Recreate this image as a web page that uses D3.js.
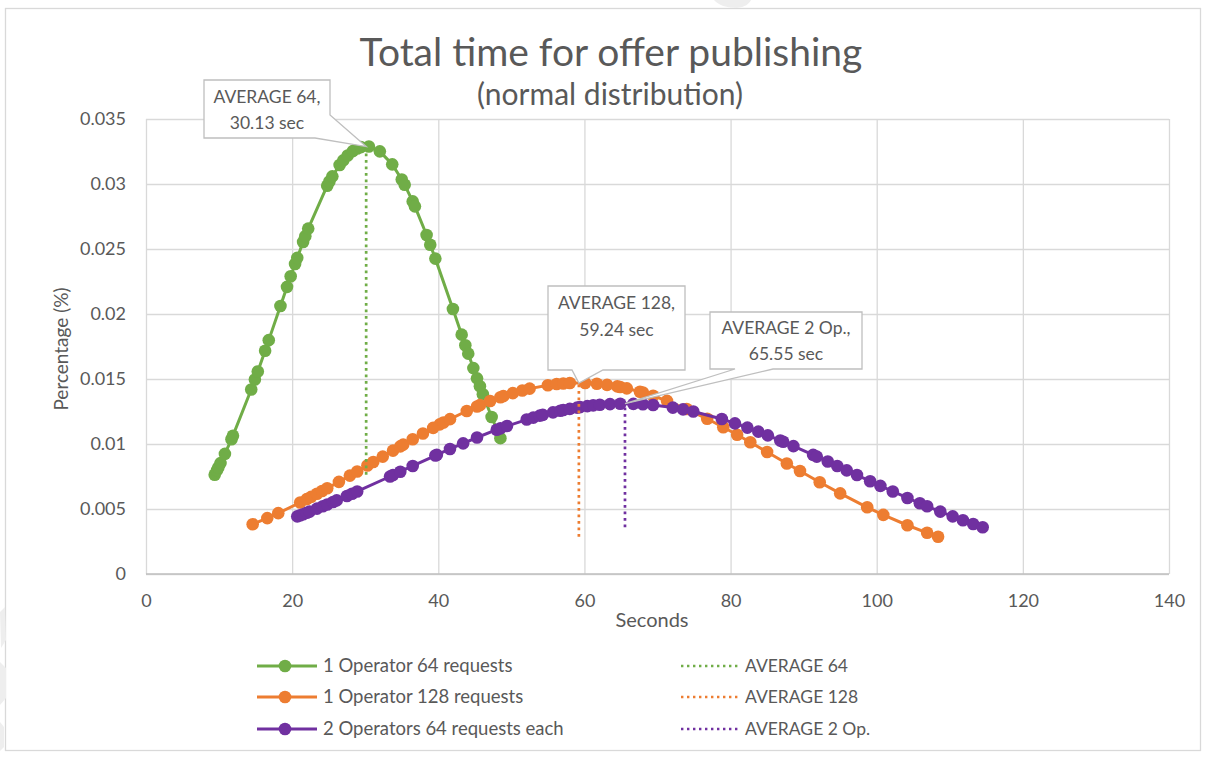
<!DOCTYPE html>
<html>
<head>
<meta charset="utf-8">
<script src="https://cdn.jsdelivr.net/npm/d3@7"></script>
<style>
  html, body { margin: 0; padding: 0; background: #ffffff; }
  svg text { font-family: Lato, "Open Sans", sans-serif; fill: #595959; }
</style>
</head>
<body>
<svg id="chart" width="1207" height="759"></svg>
<script>
// ---- data -------------------------------------------------------------
// 1 Operator, 64 requests
const seconds64 = [9.4, 9.7, 9.9, 10.2, 10.8, 11.7, 11.9, 14.4, 14.9, 15.3, 16.3, 16.8, 18.4, 19.3, 19.8,
  20.4, 20.7, 21.5, 21.8, 22.2, 24.8, 25.1, 25.5, 26.5, 27.0, 27.6, 28.3, 28.9, 29.4, 30.5, 32.0,
  33.7, 35.0, 35.4, 36.5, 36.8, 38.4, 38.9, 39.6, 42.0, 43.2, 43.7, 44.1, 44.8, 45.3, 45.7, 46.1,
  47.3, 48.5];
const pct64 = [0.00764, 0.00797, 0.00819, 0.00853, 0.00924, 0.01037, 0.01064, 0.01419, 0.01496, 0.01558,
  0.01717, 0.01799, 0.02061, 0.02209, 0.02290, 0.02385, 0.02432, 0.02554, 0.02599, 0.02657, 0.02987,
  0.03019, 0.03059, 0.03146, 0.03182, 0.03219, 0.03253, 0.03273, 0.03284, 0.03288, 0.03251, 0.03151,
  0.03035, 0.02994, 0.02866, 0.02828, 0.02608, 0.02533, 0.02426, 0.02038, 0.01841, 0.01760, 0.01695,
  0.01584, 0.01505, 0.01444, 0.01383, 0.01208, 0.01045];

// 1 Operator, 128 requests
const seconds128 = [14.6, 16.6, 18.1, 21.1, 22.0, 22.6, 23.4, 24.1, 24.8, 26.4, 27.9, 28.9, 30.3, 31.1,
  32.4, 33.8, 34.8, 35.2, 36.5, 37.9, 39.3, 40.2, 40.7, 41.6, 43.9, 45.3, 45.7, 47.1, 48.5, 48.9, 50.2,
  51.5, 52.5, 55.0, 56.2, 57.1, 58.0, 60.1, 61.7, 63.1, 64.5, 64.9, 65.8, 67.6, 68.0, 69.4, 71.3, 74.0,
  76.8, 79.0, 80.9, 82.7, 85.0, 87.7, 89.5, 92.2, 95.0, 98.7, 100.9, 104.2, 106.9, 108.4];
const pct128 = [0.00383, 0.00430, 0.00468, 0.00550, 0.00576, 0.00593, 0.00617, 0.00638, 0.00660, 0.00709,
  0.00757, 0.00789, 0.00835, 0.00861, 0.00903, 0.00949, 0.00982, 0.00995, 0.01036, 0.01081, 0.01124,
  0.01151, 0.01165, 0.01191, 0.01254, 0.01289, 0.01299, 0.01331, 0.01360, 0.01368, 0.01391, 0.01412,
  0.01426, 0.01452, 0.01461, 0.01465, 0.01469, 0.01469, 0.01464, 0.01455, 0.01443, 0.01439, 0.01428,
  0.01402, 0.01396, 0.01371, 0.01332, 0.01269, 0.01194, 0.01129, 0.01071, 0.01013, 0.00939, 0.00850,
  0.00792, 0.00706, 0.00620, 0.00513, 0.00455, 0.00375, 0.00317, 0.00287];

// 2 Operators, 64 requests each
const seconds2op = [20.7, 21.1, 21.5, 22.0, 22.4, 23.4, 24.2, 24.8, 25.6, 26.1, 27.5, 28.2, 28.9, 33.4,
  33.8, 34.8, 36.5, 39.6, 39.8, 41.6, 43.4, 45.3, 48.0, 48.5, 49.4, 52.1, 53.0, 53.9, 54.3, 55.7, 56.7,
  57.1, 58.0, 59.0, 59.4, 60.4, 61.2, 62.1, 63.5, 64.9, 66.7, 68.0, 69.4, 72.1, 73.5, 74.9, 78.8, 80.6,
  82.3, 83.8, 85.1, 86.8, 87.2, 88.6, 91.3, 91.8, 93.3, 94.6, 95.9, 97.3, 99.1, 100.5, 102.2, 104.2,
  105.9, 106.9, 108.7, 110.4, 111.8, 113.2, 114.5];
const pct2op = [0.00443, 0.00451, 0.00460, 0.00471, 0.00480, 0.00503, 0.00521, 0.00535, 0.00554, 0.00566,
  0.00600, 0.00617, 0.00635, 0.00750, 0.00761, 0.00787, 0.00831, 0.00911, 0.00916, 0.00962, 0.01005,
  0.01050, 0.01110, 0.01120, 0.01138, 0.01188, 0.01203, 0.01218, 0.01224, 0.01243, 0.01256, 0.01261,
  0.01270, 0.01280, 0.01284, 0.01291, 0.01297, 0.01302, 0.01307, 0.01310, 0.01309, 0.01306, 0.01300,
  0.01280, 0.01266, 0.01250, 0.01192, 0.01159, 0.01126, 0.01095, 0.01066, 0.01027, 0.01017, 0.00984,
  0.00916, 0.00903, 0.00865, 0.00831, 0.00797, 0.00761, 0.00714, 0.00678, 0.00635, 0.00585, 0.00544,
  0.00521, 0.00480, 0.00443, 0.00413, 0.00385, 0.00360];

const seriesNames = ["1 Operator 64 requests", "1 Operator 128 requests", "2 Operators 64 requests each"];
const averageNames = ["AVERAGE 64", "AVERAGE 128", "AVERAGE 2 Op."];
const calloutNames = ["AVERAGE 64", "AVERAGE 128", "AVERAGE 2 Op."];
const averageSeconds = [30.13, 59.24, 65.55];

const xTicks = [0, 20, 40, 60, 80, 100, 120, 140];
const yTicks = [0, 0.005, 0.01, 0.015, 0.02, 0.025, 0.03, 0.035];
const yTickLabels = ["0", "0.005", "0.01", "0.015", "0.02", "0.025", "0.03", "0.035"];

const titleText = "Total time for offer publishing";
const subtitleText = "(normal distribution)";
const xTitle = "Seconds";
const yTitle = "Percentage (%)";

// ---- styling ----------------------------------------------------------
const colors = ["#70AD47", "#ED7D31", "#7030A0"];
const gridColor = "#d9d9d9";
const textColor = "#595959";

const plot = { left: 146, right: 1169, top: 119, bottom: 574 };

const svg = d3.select("#chart");

const x = d3.scaleLinear().domain([0, 140]).range([plot.left, plot.right]);
const y = d3.scaleLinear().domain([0, 0.035]).range([plot.bottom, plot.top]);

// chart frame
svg.append("rect")
  .attr("x", 5.5).attr("y", 8.5)
  .attr("width", 1195).attr("height", 742)
  .attr("fill", "#ffffff")
  .attr("stroke", gridColor).attr("stroke-width", 1.3);

// faint marks along the sheet edges
svg.append("path")
  .attr("d", "M714,0 C718,5 727,8 737,8 C745,7 749,4 751,0 Z")
  .attr("fill", "#eeeeee");
svg.append("path")
  .attr("d", "M0,612 L5,607 L6,640 L1,648 Z M0,662 L6,668 L6,698 L0,705 Z M0,722 L4,727 L4,747 L0,751 Z")
  .attr("fill", "#eeeeee");

// ---- gridlines --------------------------------------------------------
const gridY = svg.append("g")
  .attr("transform", `translate(${plot.left},0)`)
  .call(d3.axisLeft(y).tickValues(yTicks).tickSize(-(plot.right - plot.left)).tickFormat(""));
gridY.select(".domain").remove();
gridY.selectAll("line").attr("stroke", gridColor).attr("stroke-width", 1.3);

const gridX = svg.append("g")
  .attr("transform", `translate(0,${plot.bottom})`)
  .call(d3.axisBottom(x).tickValues(xTicks).tickSize(-(plot.bottom - plot.top)).tickFormat(""));
gridX.select(".domain").remove();
gridX.selectAll("line").attr("stroke", gridColor).attr("stroke-width", 1.3);

// bottom axis line
svg.append("line")
  .attr("x1", plot.left).attr("x2", plot.right)
  .attr("y1", y(0)).attr("y2", y(0))
  .attr("stroke", "#bfbfbf").attr("stroke-width", 1.5);

// ---- tick labels ------------------------------------------------------
const axY = svg.append("g")
  .attr("transform", `translate(${plot.left},0)`)
  .call(d3.axisLeft(y).tickValues(yTicks).tickSize(0).tickPadding(20)
    .tickFormat((d, i) => yTickLabels[i]));
axY.select(".domain").remove();
axY.selectAll("text").attr("font-size", 18).attr("fill", textColor)
  .attr("font-family", "Lato, 'Open Sans', sans-serif");

const axX = svg.append("g")
  .attr("transform", `translate(0,${plot.bottom})`)
  .call(d3.axisBottom(x).tickValues(xTicks).tickSize(0).tickPadding(20));
axX.select(".domain").remove();
axX.selectAll("text").attr("font-size", 18).attr("fill", textColor)
  .attr("font-family", "Lato, 'Open Sans', sans-serif");

// ---- titles -----------------------------------------------------------
svg.append("text")
  .attr("x", 611).attr("y", 66)
  .attr("text-anchor", "middle").attr("font-size", 39)
  .text(titleText);
svg.append("text")
  .attr("x", 610).attr("y", 105)
  .attr("text-anchor", "middle").attr("font-size", 30)
  .text(subtitleText);
svg.append("text")
  .attr("x", 652).attr("y", 627)
  .attr("text-anchor", "middle").attr("font-size", 20)
  .text(xTitle);
svg.append("text")
  .attr("transform", "translate(68,349) rotate(-90)")
  .attr("text-anchor", "middle").attr("font-size", 19)
  .text(yTitle);

// ---- series -----------------------------------------------------------
const seriesData = [
  seconds64.map((s, i) => ({ s, p: pct64[i] })),
  seconds128.map((s, i) => ({ s, p: pct128[i] })),
  seconds2op.map((s, i) => ({ s, p: pct2op[i] }))
];

const line = d3.line().x(d => x(d.s)).y(d => y(d.p));

seriesData.forEach((pts, k) => {
  const g = svg.append("g");
  g.append("path")
    .datum(pts)
    .attr("d", line)
    .attr("fill", "none")
    .attr("stroke", colors[k])
    .attr("stroke-width", 3)
    .attr("stroke-linejoin", "round");
  g.selectAll("circle")
    .data(pts)
    .join("circle")
    .attr("cx", d => x(d.s))
    .attr("cy", d => y(d.p))
    .attr("r", 6.3)
    .attr("fill", colors[k]);
});

// ---- average markers (vertical dotted lines) -------------------------
const averageLines = seriesData.map((pts, k) => {
  const [lo, hi] = d3.extent(pts, d => d.p);
  return [{ s: averageSeconds[k], p: lo }, { s: averageSeconds[k], p: hi }];
});
averageLines.forEach((pts, k) => {
  svg.append("path")
    .datum(pts)
    .attr("d", line)
    .attr("fill", "none")
    .attr("stroke", colors[k])
    .attr("stroke-width", 2.7)
    .attr("stroke-dasharray", "2.7 3.8");
});

// ---- callouts ---------------------------------------------------------
// box: [left, top, right, bottom]; the pointer leaves the box between the two
// base points and ends at the top of the matching average line.
const callouts = [
  { box: [204, 80, 330, 138], base: [[330, 115], [315, 138]], cut: "corner", lines: [97, 123] },
  { box: [548, 286, 685, 370], base: [[603, 370], [572, 370]], cut: "bottom", lines: [303, 330] },
  { box: [710, 312, 862, 369], base: [[773, 369], [735, 369]], cut: "bottom", lines: [328, 354] }
];

callouts.forEach((c, k) => {
  const tip = [x(averageSeconds[k]), y(d3.max(seriesData[k], d => d.p))];
  const [l, t, r, b] = c.box;
  let pts;
  if (c.cut === "corner") {
    pts = [[l, t], [r, t], c.base[0], tip, c.base[1], [l, b]];
  } else {
    pts = [[l, t], [r, t], [r, b], c.base[0], tip, c.base[1], [l, b]];
  }
  svg.append("path")
    .attr("d", "M" + pts.map(p => p.join(",")).join("L") + "Z")
    .attr("fill", "#ffffff")
    .attr("stroke", "#bfbfbf")
    .attr("stroke-width", 1.3)
    .attr("stroke-linejoin", "miter");
  const label = [`${calloutNames[k]},`, `${averageSeconds[k].toFixed(2)} sec`];
  label.forEach((txt, j) => {
    svg.append("text")
      .attr("x", (l + r) / 2).attr("y", c.lines[j])
      .attr("dy", "0.35em")
      .attr("text-anchor", "middle")
      .attr("font-size", 17.5)
      .text(txt);
  });
});

// ---- legend -----------------------------------------------------------
const legendRows = [666, 697, 729];
seriesNames.forEach((name, k) => {
  const g = svg.append("g").attr("transform", `translate(0,${legendRows[k]})`);
  g.append("line").attr("x1", 257).attr("x2", 317).attr("y1", 0).attr("y2", 0)
    .attr("stroke", colors[k]).attr("stroke-width", 3);
  g.append("circle").attr("cx", 285).attr("cy", 0).attr("r", 6.3).attr("fill", colors[k]);
  g.append("text").attr("x", 323).attr("y", 0).attr("dy", "0.35em")
    .attr("font-size", 18.5).text(name);
});
averageNames.forEach((name, k) => {
  const g = svg.append("g").attr("transform", `translate(0,${legendRows[k]})`);
  g.append("line").attr("x1", 681).attr("x2", 738).attr("y1", 0).attr("y2", 0)
    .attr("stroke", colors[k]).attr("stroke-width", 2.4)
    .attr("stroke-dasharray", "2.4 3.6");
  g.append("text").attr("x", 745).attr("y", 0).attr("dy", "0.35em")
    .attr("font-size", 17.5).text(name);
});
</script>
</body>
</html>
